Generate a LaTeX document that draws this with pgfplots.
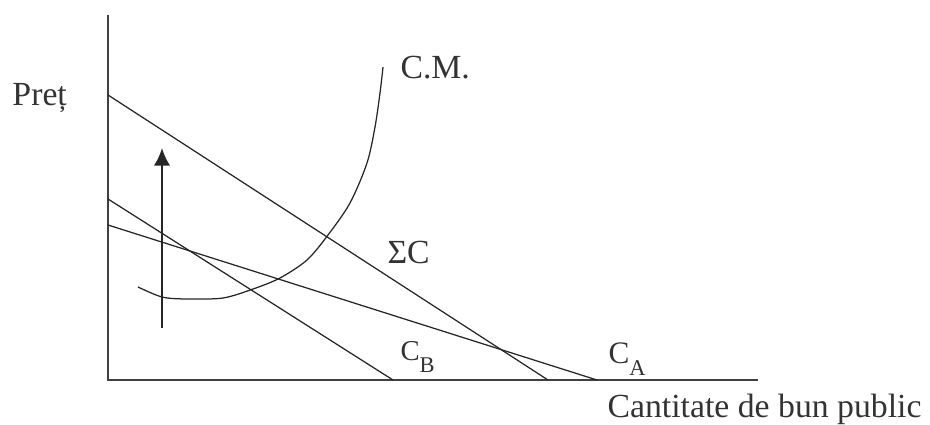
\documentclass[border=0pt]{standalone}
\usepackage{fontspec}
\setmainfont{Liberation Serif}
\usepackage{pgfplots}
\pgfplotsset{compat=1.18}
\usetikzlibrary{arrows.meta}

\tikzset{
  lbl/.style={font=\fontsize{13.5}{16}\selectfont, inner sep=0pt, anchor=base west, text=black!80},
  ln/.style={black!85, line width=0.5pt, mark=none},
}

\begin{document}
\begin{tikzpicture}
% axis in picture pixels: x to the right, y up from the bottom edge
\begin{axis}[
    scale only axis,
    width=372pt, height=168.4pt,
    xmin=0, xmax=930, ymin=0, ymax=421,
    hide axis, clip=false,
]
% frame that fixes the page size
\addplot[draw=none, mark=none] coordinates {(0,0) (930,421)};
% axes
\addplot[ln, line width=0.85pt, black!75] coordinates {(108,406) (108,41) (758,41)};
% Sigma C
\addplot[ln] coordinates {(108,326) (548,41)};
% C_A
\addplot[ln] coordinates {(108,196) (597,41)};
% C_B
\addplot[ln] coordinates {(108,222) (393,41)};
% C.M. curve
\addplot[ln, smooth] coordinates {
(138,134) (162,124) (187,122) (223,123) (253,132) (280,143) (307,161)
(328,186) (350,218) (367,258) (375,294) (380,328) (383,354)
};
% arrow
\addplot[ln, line width=0.9pt, -{Latex[length=7pt,width=6.5pt]}] coordinates {(162,93) (162,273)};

\node[lbl] at (axis cs:12,316) {Preț};
\node[lbl] at (axis cs:400,342) {C.M.};
\node[lbl] at (axis cs:387,158) {ΣC};
\node[lbl] at (axis cs:400,61) {\fontsize{11.5}{14}\selectfont C\raisebox{-5pt}{\fontsize{9}{10}\selectfont B}};
\node[lbl] at (axis cs:608,58) {\fontsize{12.5}{14}\selectfont C\raisebox{-5pt}{\fontsize{9}{10}\selectfont A}};
\node[lbl] at (axis cs:607,4) {Cantitate de bun public};
\end{axis}
\end{tikzpicture}
\end{document}
